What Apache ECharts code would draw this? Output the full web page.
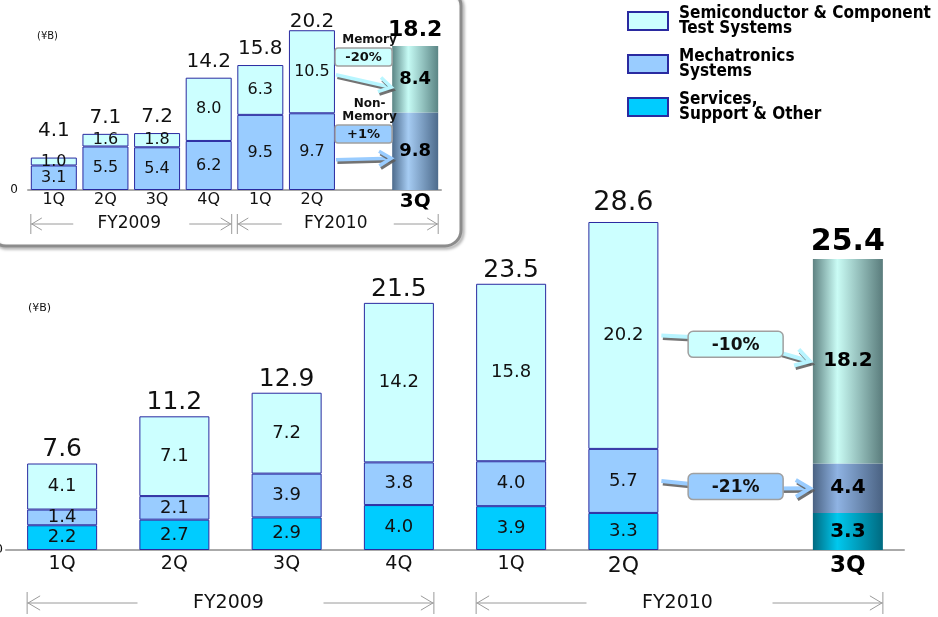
<!DOCTYPE html>
<html>
<head>
<meta charset="utf-8">
<script src="https://cdn.jsdelivr.net/npm/echarts@6/dist/echarts.min.js"></script>
<style>
  html, body { margin: 0; padding: 0; background: #fff; }
  #chart { width: 938px; height: 617px; }
</style>
</head>
<body>
<div id="chart"></div>
<script>
// categories (index 6 is the empty gap before FY2010 3Q)
const quarters = ['1Q', '2Q', '3Q', '4Q', '1Q', '2Q', '', '3Q']

// main chart, ¥B
const services = [2.2, 2.7, 2.9, 4.0, 3.9, 3.3, '-', 3.3]
const mechatronics = [1.4, 2.1, 3.9, 3.8, 4.0, 5.7, '-', 4.4]
const semiconductor = [4.1, 7.1, 7.2, 14.2, 15.8, 20.2, '-', 18.2]
const totals = [7.6, 11.2, 12.9, 21.5, 23.5, 28.6, '-', 25.4]
const mainChanges = ['-10%', '-21%']

// inset: semiconductor & component test systems split
const nonMemory = [3.1, 5.5, 5.4, 6.2, 9.5, 9.7, '-', 9.8]
const memory = [1.0, 1.6, 1.8, 8.0, 6.3, 10.5, '-', 8.4]
const semiTotals = [4.1, 7.1, 7.2, 14.2, 15.8, 20.2, '-', 18.2]
const insetChanges = ['-20%', '+1%']

const FONT = 'DejaVu Sans'
const navy = '#2a2aa0'
const chart = echarts.init(document.getElementById('chart'))

const cyl = (edge, mid, edge2) => new echarts.graphic.LinearGradient(0, 0, 1, 0, [
  { offset: 0, color: edge },
  { offset: 0.35, color: mid },
  { offset: 1, color: edge2 || edge }
])

const stackTop = (...arrs) => arrs[0].map((v, i) => v === '-' ? '-' : arrs.reduce((s, a) => s + a[i], 0))
const mainTop = stackTop(services, mechatronics, semiconductor)
const insetTop = stackTop(nonMemory, memory)

const withLast = (arr, fill, fs) => arr.map((v, i) => i === 7
  ? { value: v, itemStyle: { color: fill, borderWidth: 0 }, label: { fontWeight: 'bold', fontSize: fs, color: '#000' } }
  : v)

const bar = (name, grid, data, color, last, fs) => ({
  name,
  type: 'bar',
  stack: 'g' + grid,
  xAxisIndex: grid,
  yAxisIndex: grid,
  barWidth: grid === 0 ? 70 : 46,
  itemStyle: { color, borderColor: navy, borderWidth: 1 },
  label: {
    show: true, position: 'inside', fontFamily: FONT, fontSize: fs, color: '#111',
    formatter: p => Number(p.value).toFixed(1)
  },
  emphasis: { disabled: true },
  data: withLast(data, last, grid === 0 ? 20 : 18)
})

const totalLabels = (grid, tops, texts, base, special) => ({
  type: 'scatter',
  xAxisIndex: grid,
  yAxisIndex: grid,
  symbolSize: 0.1,
  itemStyle: { color: 'rgba(0,0,0,0)', opacity: 1 },
  silent: true,
  z: 5,
  label: {
    show: true, position: 'top', fontFamily: FONT, color: '#111', ...base,
    formatter: p => texts[p.value[0]].toFixed(1)
  },
  data: tops.map((v, i) => v === '-' ? null : { value: [i, v], label: special[i] || {} }).filter(Boolean)
})

const catAxis = (grid, fs, margin, rich) => ({
  type: 'category',
  gridIndex: grid,
  data: quarters,
  axisLine: { lineStyle: { color: '#aaa', width: 2 } },
  axisTick: { show: false },
  axisLabel: {
    fontFamily: FONT, fontSize: fs, color: '#111', margin, interval: 0,
    formatter: (v, i) => rich[i] ? '{' + rich[i] + '|' + v + '}' : v,
    rich: {
      big: { fontFamily: FONT, fontSize: 22, color: '#111' },
      b: { fontFamily: FONT, fontSize: grid === 0 ? 23 : 20, fontWeight: 'bold', color: '#000' }
    }
  }
})

const valAxis = (grid, max, margin, fs) => ({
  type: 'value',
  gridIndex: grid,
  min: 0, max, interval: max,
  splitLine: { show: false },
  axisLine: { show: false },
  axisTick: { show: false },
  axisLabel: { fontFamily: FONT, fontSize: fs, color: '#111', margin, formatter: v => v === 0 ? '0' : '' }
})

chart.setOption({
  animation: false,
  grid: [
    { left: 6, right: 34, top: 213, bottom: 67, outerBoundsMode: 'none', containLabel: false },
    { left: 28, width: 413, top: 16, bottom: 427, outerBoundsMode: 'none', containLabel: false }
  ],
  xAxis: [catAxis(0, 19, 5, { 5: 'big', 7: 'b' }), catAxis(1, 16, 2, { 7: 'b' })],
  yAxis: [valAxis(0, 30, 3, 13), valAxis(1, 22, 10, 12)],
  legend: {
    data: ['Semiconductor & Component Test Systems', 'Mechatronics Systems', 'Services, Support & Other'],
    orient: 'vertical',
    left: 627,
    top: 5,
    padding: 0,
    itemWidth: 40,
    itemHeight: 18,
    itemGap: 11,
    icon: 'rect',
    selectedMode: false,
    formatter: n => ({
      'Semiconductor & Component Test Systems': 'Semiconductor & Component\nTest Systems',
      'Mechatronics Systems': 'Mechatronics\nSystems',
      'Services, Support & Other': 'Services,\nSupport & Other'
    })[n],
    textStyle: {
      fontFamily: 'DejaVu Sans Condensed', fontWeight: 'bold', fontSize: 17, lineHeight: 15,
      color: '#000', padding: [0, 0, 0, 6]
    }
  },
  series: [
    bar('Services, Support & Other', 0, services, '#00ccff', cyl('#006a80', '#00c8ee'), 18),
    bar('Mechatronics Systems', 0, mechatronics, '#99ccff', cyl('#4a6282', '#8fb3e3'), 18),
    bar('Semiconductor & Component Test Systems', 0, semiconductor, '#ccffff', cyl('#5f8282', '#cafcf5', '#5a7c7c'), 18),
    totalLabels(0, mainTop, totals, { fontSize: 25, distance: 1 }, {
      5: { fontSize: 27, distance: 5 },
      7: { fontSize: 30, fontWeight: 'bold', color: '#000', distance: 2 }
    }),
    bar('Non-Memory', 1, nonMemory, '#99ccff', cyl('#4d6b8c', '#a6ccf3'), 16),
    bar('Memory', 1, memory, '#ccffff', cyl('#5b8585', '#c6fbf5'), 16),
    totalLabels(1, insetTop, semiTotals, { fontSize: 20, distance: 6 }, {
      0: { distance: 17 },
      5: { distance: -2 },
      7: { fontSize: 22, fontWeight: 'bold', color: '#000', distance: 5 }
    })
  ]
})

// ---- annotations positioned from the chart's own scales ----
const P = (g, i, v) => chart.convertToPixel({ gridIndex: g }, [i, v])
const g = []

const lineStyle = (color, w) => ({
  stroke: color, lineWidth: w, fill: null,
  shadowColor: 'rgba(90,90,90,0.85)', shadowOffsetX: 1.5, shadowOffsetY: 2.5, shadowBlur: 0
})

function arrowTo(from, tip, color, w, head) {
  g.push({ type: 'polyline', shape: { points: [from, tip] }, style: lineStyle(color, w), z: 20 })
  const dx = tip[0] - from[0], dy = tip[1] - from[1]
  const len = Math.hypot(dx, dy)
  const ux = dx / len, uy = dy / len
  const nx = -uy, ny = ux
  g.push({
    type: 'polyline',
    shape: { points: [
      [tip[0] - head * ux + head * 0.6 * nx, tip[1] - head * uy + head * 0.6 * ny],
      tip,
      [tip[0] - head * ux - head * 0.6 * nx, tip[1] - head * uy - head * 0.6 * ny]
    ] },
    style: lineStyle(color, w),
    z: 20
  })
}

function box(cx, cy, w, h, r, fill, text, fs) {
  g.push({
    type: 'rect', shape: { x: cx - w / 2, y: cy - h / 2, width: w, height: h, r },
    style: { fill, stroke: '#a0a0a0', lineWidth: 1.5 }, z: 21
  })
  g.push({
    type: 'text', x: cx, y: cy + 1,
    style: { text, fontFamily: FONT, fontWeight: 'bold', fontSize: fs, fill: '#111', align: 'center', verticalAlign: 'middle' },
    z: 22
  })
}

function label(x, y, text, fs, bold) {
  g.push({
    type: 'text', x, y,
    style: { text, fontFamily: FONT, fontWeight: bold ? 'bold' : 'normal', fontSize: fs, fill: '#111', align: 'center', verticalAlign: 'middle' },
    z: 22
  })
}

// main chart change arrows (2Q -> 3Q FY2010)
{
  const half = 35
  const semiMid = i => services[i] + mechatronics[i] + semiconductor[i] / 2
  const mechMid = i => services[i] + mechatronics[i] / 2
  const rows = [
    { a: P(0, 5, semiMid(5)), b: P(0, 7, semiMid(7)), fill: '#ccffff', line: '#b8f4ff', dy: -4, text: mainChanges[0], inOff: -7, outOff: 7 },
    { a: P(0, 5, mechMid(5)), b: P(0, 7, mechMid(7)), fill: '#99ccff', line: '#99ccff', dy: 2, text: mainChanges[1], inOff: -2, outOff: 2 }
  ]
  rows.forEach(r => {
    const x1 = r.a[0] + half + 3, x2 = r.b[0] - half - 3
    const bx = (x1 + x2) / 2, by = (r.a[1] + r.b[1]) / 2 + r.dy
    g.push({ type: 'polyline', shape: { points: [[x1, r.a[1]], [bx - 40, by + r.inOff]] }, style: lineStyle(r.line, 4), z: 19 })
    arrowTo([bx + 40, by + r.outOff], [x2, r.b[1]], r.line, 4, 14)
    box(bx, by, 95, 26, 5, r.fill, r.text, 17)
  })
}

// inset change arrows
{
  const half = 23
  const x1 = P(1, 5, 0)[0] + half + 1, x2 = P(1, 7, 0)[0] - half - 1
  const cx = (x1 + x2) / 2
  const memMid = i => nonMemory[i] + memory[i] / 2
  const nonMid = i => nonMemory[i] / 2
  arrowTo([x1, P(1, 5, memMid(5))[1] + 3], [x2, P(1, 7, memMid(7))[1] + 8], '#b8f6ff', 3.5, 12)
  arrowTo([x1, P(1, 5, nonMid(5))[1] + 8], [x2, P(1, 7, nonMid(7))[1] + 7], '#99ccff', 3.5, 12)
  label(cx + 6, 40, 'Memory', 12, true)
  box(cx, 57, 57, 18, 3, '#ccffff', insetChanges[0], 13)
  label(cx + 6, 104, 'Non-', 12, true)
  label(cx + 6, 117, 'Memory', 12, true)
  box(cx, 134, 57, 18, 3, '#99ccff', insetChanges[1], 13)
}

// fiscal year spans under the axes
function span(grid, i0, i1, half, y, tickH, text, fs, gap, head) {
  const L = P(grid, i0, 0)[0] - half, R = P(grid, i1, 0)[0] + half
  const mid = (L + R) / 2
  const st = { stroke: '#9a9a9a', lineWidth: 1 }
  g.push({ type: 'line', shape: { x1: L, y1: y - tickH, x2: L, y2: y + tickH }, style: st })
  g.push({ type: 'line', shape: { x1: R, y1: y - tickH, x2: R, y2: y + tickH }, style: st })
  g.push({ type: 'line', shape: { x1: L, y1: y, x2: mid - gap, y2: y }, style: st })
  g.push({ type: 'line', shape: { x1: mid + gap, y1: y, x2: R, y2: y }, style: st })
  g.push({ type: 'polyline', shape: { points: [[L + head, y - head * 0.55], [L + 1, y], [L + head, y + head * 0.55]] }, style: { ...st, fill: null } })
  g.push({ type: 'polyline', shape: { points: [[R - head, y - head * 0.55], [R - 1, y], [R - head, y + head * 0.55]] }, style: { ...st, fill: null } })
  g.push({
    type: 'text', x: mid - 2, y,
    style: { text, fontFamily: FONT, fontSize: fs, fill: '#111', align: 'center', verticalAlign: 'middle' }
  })
}
span(0, 0, 3, 35, 603, 11, 'FY2009', 19, 93, 13)
span(0, 4, 7, 35, 603, 11, 'FY2010', 19, 93, 13)
span(1, 0, 3, 23, 224, 10, 'FY2009', 17, 58, 11)
span(1, 4, 7, 23, 224, 10, 'FY2010', 17, 56, 11)

// unit labels
g.push({ type: 'text', x: 28, y: 308, style: { text: '(¥B)', fontFamily: FONT, fontSize: 11, fill: '#111', verticalAlign: 'middle' } })
g.push({ type: 'text', x: 37, y: 36, style: { text: '(¥B)', fontFamily: FONT, fontSize: 10, fill: '#111', verticalAlign: 'middle' } })

// inset frame
g.push({
  type: 'rect', shape: { x: -10, y: -10, width: 471, height: 256, r: 16 },
  style: { fill: null, stroke: '#8c8c8c', lineWidth: 3, shadowColor: 'rgba(0,0,0,0.35)', shadowBlur: 3, shadowOffsetX: 2, shadowOffsetY: 2 },
  z: 1
})

chart.setOption({ graphic: g })
</script>
</body>
</html>
